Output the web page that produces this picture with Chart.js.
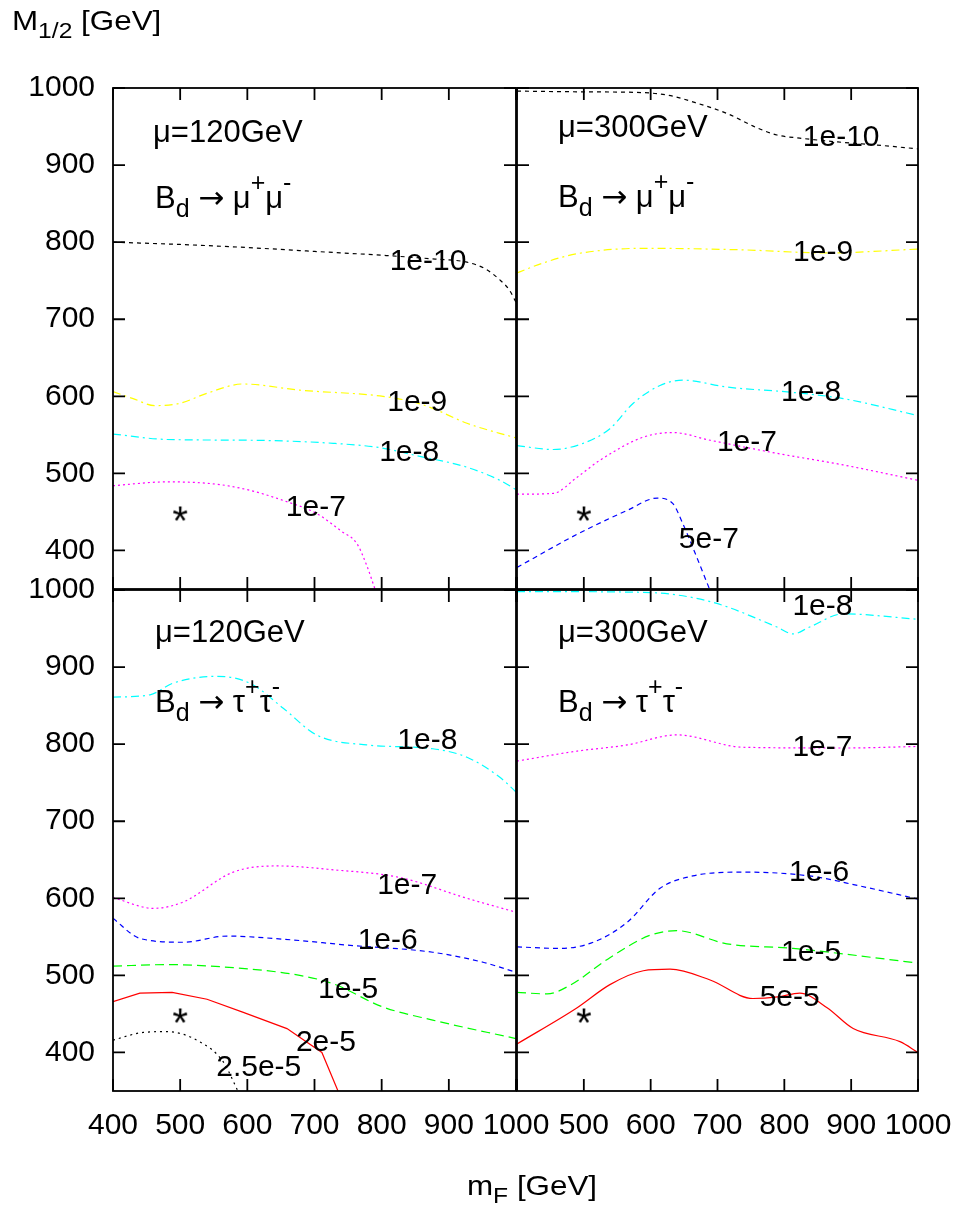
<!DOCTYPE html>
<html>
<head>
<meta charset="utf-8">
<script src="https://cdn.jsdelivr.net/npm/chart.js@4.4.0/dist/chart.umd.min.js"></script>
<style>
  body { margin: 0; background: #fff; }
  #wrap { position: relative; width: 961px; height: 1209px; }
  canvas { position: absolute; left: 0; top: 0; }
</style>
</head>
<body>
<div id="wrap">
  <canvas id="tl" width="961" height="1209"></canvas>
  <canvas id="tr" width="961" height="1209"></canvas>
  <canvas id="bl" width="961" height="1209"></canvas>
  <canvas id="br" width="961" height="1209"></canvas>
</div>
<script>
// ticks
const xTicks = [400, 500, 600, 700, 800, 900, 1000];
const xTicksRight = [500, 600, 700, 800, 900, 1000];
const yTicks = [400, 500, 600, 700, 800, 900, 1000];
const starPoint = [[500, 448]];

// Bd -> mu+ mu-, mu = 120 GeV
const tlC10 = [[400,800],[500,797],[600,793],[700,788],[800,783],[880,778],[927,774],[955,765],[976,751],[990,738],[1000,722]];
const tlC9 = [[400,606],[430,597],[462,588],[500,591],[540,604],[594,616],[678,608],[802,600],[850,592],[877,584],[927,565],[1000,546]];
const tlC8 = [[400,551],[480,544],[604,543],[728,539],[800,533],[852,523],[927,508],[976,491],[1000,479]];
const tlC7 = [[400,484],[480,489],[554,486],[604,478],[653,465],[703,448],[740,425],[763,409],[778,380],[790,350]];

// Bd -> mu+ mu-, mu = 300 GeV
const trC10 = [[400,996],[500,995],[589,994],[630,990],[663,982],[714,967],[760,948],[789,939],[823,935],[880,930],[939,926],[1000,921]];
const trC9 = [[400,760],[439,773],[490,785],[589,792],[738,790],[864,786],[1000,791]];
const trC8 = [[400,536],[454,531],[499,539],[539,558],[574,591],[614,614],[648,621],[714,612],[813,605],[888,597],[1000,575]];
const trC7 = [[400,473],[454,474],[490,495],[524,517],[589,547],[633,553],[689,543],[789,526],[888,511],[1000,491]];
const trC5e7 = [[400,378],[490,421],[565,452],[610,468],[633,461],[648,435],[663,404],[688,350]];

// Bd -> tau+ tau-, mu = 120 GeV
const blC8 = [[400,861],[455,864],[489,879],[554,888],[604,879],[653,847],[703,812],[778,799],[876,794],[927,783],[976,757],[1000,738]];
const blC7 = [[400,601],[460,587],[504,595],[579,634],[644,642],[728,637],[827,627],[927,600],[1000,582]];
const blC6 = [[400,574],[440,548],[504,543],[570,551],[653,547],[753,539],[876,530],[951,517],[1000,504]];
const blC5 = [[400,512],[480,514],[579,510],[678,500],[728,489],[802,459],[876,442],[1000,418]];
const blC2e5 = [[400,466],[440,477],[488,478],[540,469],[594,452],[659,431],[711,400],[735,350]];
const blC25e5 = [[400,416],[445,426],[480,427],[529,414],[564,388],[586,350]];

// Bd -> tau+ tau-, mu = 300 GeV
const brC8 = [[400,998],[589,997],[689,985],[789,952],[813,943],[838,952],[888,969],[1000,962]];
const brC7 = [[400,778],[490,791],[565,799],[639,812],[738,796],[888,795],[1000,797]];
const brC6 = [[400,537],[464,535],[514,543],[565,569],[614,613],[663,629],[738,634],[838,629],[913,616],[1000,599]];
const brC5 = [[400,478],[445,476],[479,487],[539,523],[599,552],[639,558],[714,541],[813,535],[1000,516]];
const brC5e5 = [[400,411],[490,458],[539,488],[589,506],[629,508],[689,494],[753,470],[790,472],[823,477],[864,458],[903,431],[973,414],[1000,400]];

const FAMILY = '"Liberation Sans", Arial, sans-serif';
const FONT = '30px ' + FAMILY;

const levelStyle = {
  '1e-10': { color: '#000000', dash: [4, 4] },
  '1e-9': { color: '#ffff00', dash: [8, 4, 2, 4] },
  '1e-8': { color: '#00ffff', dash: [8, 4, 2, 4] },
  '1e-7': { color: '#ff00ff', dash: [2, 3] },
  '5e-7': { color: '#0000ff', dash: [5, 4] },
  '1e-6': { color: '#0000ff', dash: [5, 4] },
  '1e-5': { color: '#00ff00', dash: [9, 5] },
  '2e-5': { color: '#ff0000', dash: [], straight: true },
  '5e-5': { color: '#ff0000', dash: [] },
  '2.5e-5': { color: '#000000', dash: [2, 4] }
};

// asterisk marker
const starImg = document.createElement('canvas');
starImg.width = 24; starImg.height = 24;
(() => {
  const c = starImg.getContext('2d');
  c.font = '40px ' + FAMILY;
  c.fillStyle = '#000';
  c.textAlign = 'center';
  const m = c.measureText('*');
  c.fillText('*', 12, 12 + (m.actualBoundingBoxAscent - m.actualBoundingBoxDescent) / 2);
})();

const curveSet = (level, pts) => {
  const s = levelStyle[level];
  return {
    label: level,
    data: pts.map(([x, y]) => ({ x, y })),
    showLine: true,
    borderColor: s.color,
    borderWidth: 1.2,
    borderDash: s.dash,
    pointRadius: 0,
    tension: s.straight ? 0 : 0.4,
    cubicInterpolationMode: s.straight ? 'default' : 'monotone'
  };
};

const starSet = () => ({
  data: starPoint.map(([x, y]) => ({ x, y })),
  pointStyle: starImg,
  pointRadius: 12,
  showLine: false
});

function drawRuns(ctx, runs, x, y, size) {
  let cx = x;
  for (const r of runs) {
    const s = (r.sub || r.sup) ? Math.round(size * 0.8) : size;
    ctx.font = s + 'px ' + (r.fam || FAMILY);
    const dy = r.sub ? size * 0.3 : r.sup ? -size * 0.55 : 0;
    ctx.fillText(r.t, cx, y + dy);
    cx += ctx.measureText(r.t).width;
  }
}

const muRuns = m => [{ t: 'μ=' + m + 'GeV' }];
const ARROW = '"DejaVu Sans", sans-serif';
const bdMuRuns = [{ t: 'B' }, { t: 'd', sub: true }, { t: ' ' }, { t: '→', fam: ARROW }, { t: ' μ' }, { t: '+', sup: true }, { t: 'μ' }, { t: '-', sup: true }];
const bdTauRuns = [{ t: 'B' }, { t: 'd', sub: true }, { t: ' ' }, { t: '→', fam: ARROW }, { t: ' τ' }, { t: '+', sup: true }, { t: 'τ' }, { t: '-', sup: true }];

const framePlugin = {
  id: 'frame',
  afterDatasetsDraw(chart, args, o) {
    const { ctx, chartArea: a, scales: { x, y } } = chart;
    ctx.save();
    ctx.setLineDash([]);
    ctx.strokeStyle = '#000';
    ctx.lineWidth = 1.8;
    ctx.strokeRect(a.left, a.top, a.right - a.left, a.bottom - a.top);
    ctx.beginPath();
    for (const v of xTicks) {
      const p = x.getPixelForValue(v);
      ctx.moveTo(p, a.top); ctx.lineTo(p, a.top + 12);
      ctx.moveTo(p, a.bottom); ctx.lineTo(p, a.bottom - 12);
    }
    for (const v of yTicks) {
      const p = y.getPixelForValue(v);
      ctx.moveTo(a.left, p); ctx.lineTo(a.left + 12, p);
      ctx.moveTo(a.right, p); ctx.lineTo(a.right - 12, p);
    }
    ctx.stroke();

    ctx.fillStyle = '#000';
    ctx.font = FONT;
    ctx.textAlign = 'center';
    ctx.textBaseline = 'middle';
    for (const l of o.labels) {
      ctx.fillText(l.text, x.getPixelForValue(l.x), y.getPixelForValue(l.y));
    }
    ctx.textAlign = 'left';
    ctx.textBaseline = 'alphabetic';
    drawRuns(ctx, o.mu, a.left + o.muAt[0], a.top + o.muAt[1], 31);
    drawRuns(ctx, o.decay, a.left + o.decayAt[0], a.top + o.decayAt[1], 31);
    ctx.restore();
  }
};

const titlePlugin = {
  id: 'titles',
  afterDraw(chart) {
    const ctx = chart.ctx;
    ctx.save();
    ctx.fillStyle = '#000';
    ctx.textAlign = 'left';
    ctx.textBaseline = 'alphabetic';
    ctx.translate(12, 30);
    ctx.scale(1.12, 1);
    drawRuns(ctx, [{ t: 'M' }, { t: '1/2', sub: true }, { t: ' [GeV]' }], 0, 0, 28);
    ctx.restore();
    ctx.save();
    ctx.fillStyle = '#000';
    ctx.translate(467, 1195);
    ctx.scale(1.12, 1);
    drawRuns(ctx, [{ t: 'm' }, { t: 'F', sub: true }, { t: ' [GeV]' }], 0, 0, 28);
    ctx.restore();
  }
};

function makePanel(id, box, showX, showY, xLabels, datasets, text, extra) {
  const xh = showX ? 60 : 0;
  new Chart(document.getElementById(id), {
    type: 'scatter',
    data: { datasets: datasets },
    options: {
      responsive: false,
      animation: false,
      events: [],
      layout: {
        padding: {
          left: showY ? 0 : box.l,
          top: box.t,
          right: 961 - box.r,
          bottom: 1209 - box.b - xh
        }
      },
      scales: {
        x: {
          type: 'linear',
          min: 400, max: 1000,
          grid: { display: false, drawTicks: false },
          border: { display: false },
          afterBuildTicks: s => { s.ticks = xLabels.map(v => ({ value: v })); },
          afterFit: s => { s.height = xh; s.paddingLeft = 0; s.paddingRight = 0; },
          ticks: { display: showX, padding: 17, color: '#000', font: { family: FAMILY, size: 30 }, maxRotation: 0, autoSkip: false, callback: v => String(v) }
        },
        y: {
          type: 'linear',
          min: 350, max: 1000,
          grid: { display: false, drawTicks: false },
          border: { display: false },
          afterBuildTicks: s => { s.ticks = yTicks.map(v => ({ value: v })); },
          afterFit: s => { s.width = showY ? box.l : 0; s.paddingTop = 0; s.paddingBottom = 0; },
          ticks: { display: showY, padding: 18, color: '#000', font: { family: FAMILY, size: 30 }, autoSkip: false, callback: v => String(v) }
        }
      },
      plugins: {
        legend: { display: false },
        tooltip: { enabled: false },
        frame: text
      }
    },
    plugins: [framePlugin].concat(extra || [])
  });
}

makePanel('tl', { l: 113, t: 88, r: 516, b: 589 }, false, true, xTicks, [
  curveSet('1e-10', tlC10), curveSet('1e-9', tlC9), curveSet('1e-8', tlC8), curveSet('1e-7', tlC7), starSet()
], {
  mu: muRuns(120), muAt: [40, 54], decay: bdMuRuns, decayAt: [42, 120],
  labels: [
    { text: '1e-10', x: 869, y: 775 },
    { text: '1e-9', x: 853, y: 592 },
    { text: '1e-8', x: 841, y: 527 },
    { text: '1e-7', x: 702, y: 455 }
  ]
}, [titlePlugin]);

makePanel('tr', { l: 517, t: 88, r: 918, b: 589 }, false, false, xTicksRight, [
  curveSet('1e-10', trC10), curveSet('1e-9', trC9), curveSet('1e-8', trC8), curveSet('1e-7', trC7), curveSet('5e-7', trC5e7), starSet()
], {
  mu: muRuns(300), muAt: [41, 49], decay: bdMuRuns, decayAt: [41, 119],
  labels: [
    { text: '1e-10', x: 885, y: 936 },
    { text: '1e-9', x: 858, y: 786 },
    { text: '1e-8', x: 840, y: 605 },
    { text: '1e-7', x: 744, y: 540 },
    { text: '5e-7', x: 687, y: 414 }
  ]
});

makePanel('bl', { l: 113, t: 590, r: 516, b: 1091 }, true, true, xTicks, [
  curveSet('1e-8', blC8), curveSet('1e-7', blC7), curveSet('1e-6', blC6), curveSet('1e-5', blC5),
  curveSet('2e-5', blC2e5), curveSet('2.5e-5', blC25e5), starSet()
], {
  mu: muRuns(120), muAt: [42, 52], decay: bdTauRuns, decayAt: [42, 122],
  labels: [
    { text: '1e-8', x: 868, y: 804 },
    { text: '1e-7', x: 838, y: 616 },
    { text: '1e-6', x: 809, y: 545 },
    { text: '1e-5', x: 750, y: 481 },
    { text: '2e-5', x: 717, y: 412 },
    { text: '2.5e-5', x: 617, y: 380 }
  ]
});

makePanel('br', { l: 517, t: 590, r: 918, b: 1091 }, true, false, xTicksRight, [
  curveSet('1e-8', brC8), curveSet('1e-7', brC7), curveSet('1e-6', brC6), curveSet('1e-5', brC5),
  curveSet('5e-5', brC5e5), starSet()
], {
  mu: muRuns(300), muAt: [41, 52], decay: bdTauRuns, decayAt: [41, 122],
  labels: [
    { text: '1e-8', x: 857, y: 978 },
    { text: '1e-7', x: 857, y: 796 },
    { text: '1e-6', x: 852, y: 633 },
    { text: '1e-5', x: 840, y: 529 },
    { text: '5e-5', x: 808, y: 471 }
  ]
});
</script>
</body>
</html>
